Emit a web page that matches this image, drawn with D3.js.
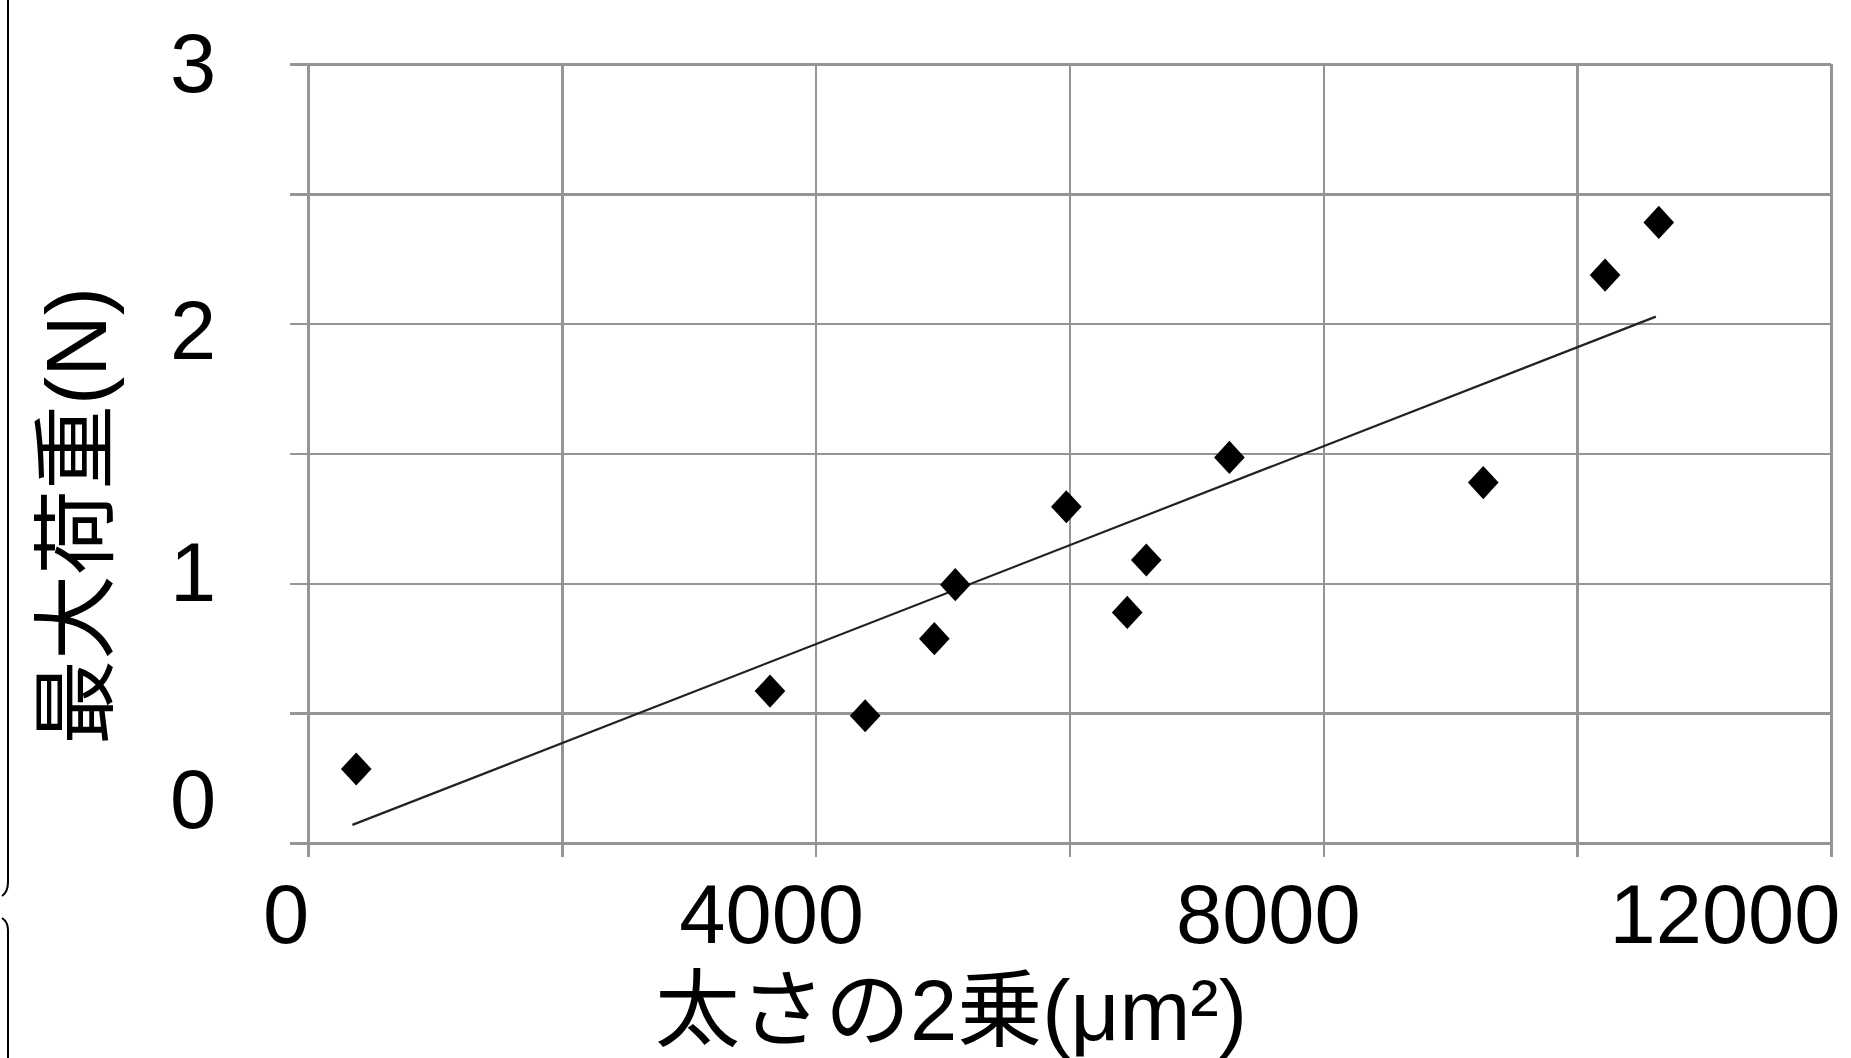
<!DOCTYPE html>
<html>
<head>
<meta charset="utf-8">
<script src="https://cdn.jsdelivr.net/npm/d3@7"></script>
<style>
  html, body { margin: 0; padding: 0; background: #fff; }
  svg { display: block; }
  .grid line { stroke: #959595; stroke-width: 2.5; shape-rendering: crispEdges; }
  .grid .domain { display: none; }
  .lbl { font-family: "Liberation Sans", "Noto Sans CJK JP", sans-serif; fill: #000; }
</style>
</head>
<body>
<div id="chart"></div>
<script>
  // Values.
  var sizeSq = [380, 3640, 4390, 4935, 5100, 5975, 6455, 6605, 7260, 9260, 10220, 10643];
  var maxLoad = [0.285, 0.585, 0.49, 0.787, 0.995, 1.295, 0.888, 1.09, 1.485, 1.388, 2.187, 2.39];

  // Trend line as drawn (approximate linear fit).
  var trendSlope = 0.0001906,
      trendIntercept = 0.003,
      trendFrom = [350, 10620];

  var xTicks = [0, 2000, 4000, 6000, 8000, 10000, 12000];
  var yTicks = [0, 0.5, 1, 1.5, 2, 2.5, 3];
  var xLabels = [0, 4000, 8000, 12000];
  var yLabels = [0, 1, 2, 3];

  var xTitle = '太さの2乗(μm²)';
  var yTitle = '最大荷重(N)';

  var width = 1851, height = 1058;
  var margin = {top: 64, right: 20, bottom: 215, left: 308};

  var svg = d3.select('#chart').append('svg')
      .attr('width', width)
      .attr('height', height);

  var x = d3.scaleLinear().domain([0, 12000]).range([margin.left, width - margin.right]);
  var y = d3.scaleLinear().domain([0, 3]).range([height - margin.bottom, margin.top]);

  // Label placement in the source sits a bit off the grid; nudge relative to the scales.
  var xLabelPos = d3.scaleLinear().domain(xLabels)
      .range([x(0) - 22, x(4000) - 44, x(8000) - 55, x(12000) - 106]);
  var yLabelPos = d3.scaleLinear().domain(yLabels)
      .range([y(0) - 45, y(1) - 12, y(2) + 5, y(3) - 2]);

  // Grid lines, drawn as axes with long ticks.
  svg.append('g')
      .attr('class', 'grid')
      .attr('transform', 'translate(0,' + (y(0) + 14) + ')')
      .call(d3.axisTop(x).tickValues(xTicks).tickSize(y(0) + 14 - y(3)).tickFormat(''));

  svg.append('g')
      .attr('class', 'grid')
      .attr('transform', 'translate(' + (x(0) - 18) + ',0)')
      .call(d3.axisRight(y).tickValues(yTicks).tickSize(x(12000) - x(0) + 18).tickFormat(''));

  // Trend line.
  var line = d3.line()
      .x(function(d) { return x(d); })
      .y(function(d) { return y(trendIntercept + trendSlope * d); });

  svg.append('path')
      .datum(trendFrom)
      .attr('d', line)
      .attr('fill', 'none')
      .attr('stroke', '#222')
      .attr('stroke-width', 2.2);

  // Diamond markers.
  var diamond = d3.symbol().type(d3.symbolSquare).size(470);

  svg.append('g').selectAll('path')
      .data(sizeSq.map(function(v, i) { return {x: v, y: maxLoad[i]}; }))
      .enter().append('path')
      .attr('d', diamond)
      .attr('fill', '#000')
      .attr('transform', function(d) {
        return 'translate(' + x(d.x) + ',' + y(d.y) + ') scale(1,1.08) rotate(45)';
      });

  // Tick labels.
  svg.append('g').selectAll('text')
      .data(xLabels)
      .enter().append('text')
      .attr('class', 'lbl')
      .attr('x', function(d) { return xLabelPos(d); })
      .attr('y', 943)
      .attr('text-anchor', 'middle')
      .style('font-size', '83px')
      .text(function(d) { return d; });

  svg.append('g').selectAll('text')
      .data(yLabels)
      .enter().append('text')
      .attr('class', 'lbl')
      .attr('x', 193)
      .attr('y', function(d) { return yLabelPos(d) + 30; })
      .attr('text-anchor', 'middle')
      .style('font-size', '83px')
      .text(function(d) { return d; });

  // Axis titles.
  svg.append('text')
      .attr('class', 'lbl')
      .attr('x', 951)
      .attr('y', 1040)
      .attr('text-anchor', 'middle')
      .style('font-size', '85px')
      .text(xTitle);

  svg.append('text')
      .attr('class', 'lbl')
      .attr('transform', 'translate(106,516) rotate(-90)')
      .attr('text-anchor', 'middle')
      .style('font-size', '85px')
      .text(yTitle);

  // Thin black edge on the left of the picture.
  svg.append('path')
      .attr('d', 'M8,0V882Q8,892 2,896M2,918Q8,922 8,930V1058')
      .attr('fill', 'none')
      .attr('stroke', '#000')
      .attr('stroke-width', 2);
</script>
</body>
</html>
